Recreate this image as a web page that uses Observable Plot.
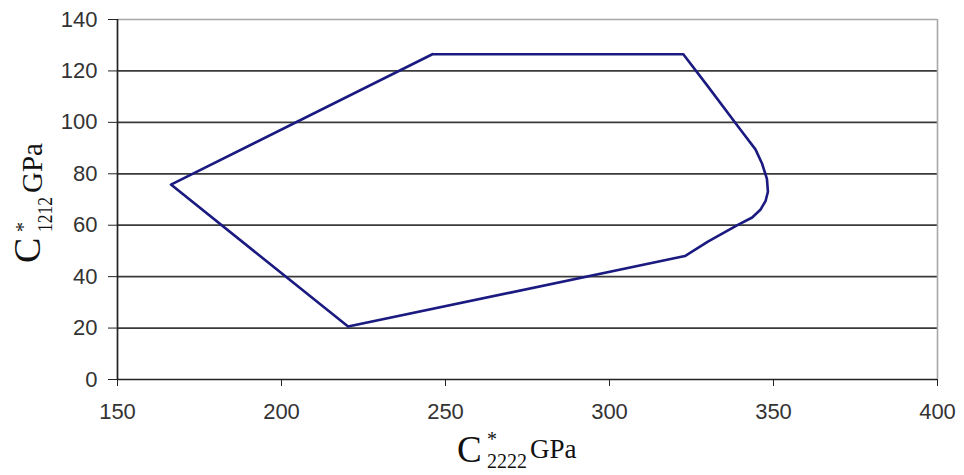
<!DOCTYPE html>
<html>
<head>
<meta charset="utf-8">
<script src="https://cdn.jsdelivr.net/npm/d3@7"></script>
<script src="https://cdn.jsdelivr.net/npm/@observablehq/plot@0.6"></script>
<style>
  html, body { margin: 0; padding: 0; background: #fff; }
  #chart { width: 964px; height: 475px; }
</style>
</head>
<body>
<div id="chart"></div>
<script>
// Envelope points (C*2222, C*1212) in GPa, in drawing order
const c2222 = [246, 322.5, 330, 340, 344.5, 346.5, 348, 348.3, 347.6, 346, 343.5, 339, 330, 323, 220.3, 166.3, 246];
const c1212 = [126.5, 126.5, 114, 97, 89.5, 84, 78, 73, 69.5, 66, 63, 60, 53.6, 48, 20.6, 75.8, 126.5];

const xTicks = [150, 200, 250, 300, 350, 400];
const yTicks = [0, 20, 40, 60, 80, 100, 120, 140];
const gridY = [20, 40, 60, 80, 100, 120];

const pts = c2222.map((x, i) => ({x, y: c1212[i]}));

const tickFont = "'Liberation Sans', Arial, sans-serif";

const svg = Plot.plot({
  width: 964,
  height: 475,
  marginLeft: 117,
  marginRight: 27,
  marginTop: 19,
  marginBottom: 96,
  style: {fontFamily: tickFont, fontSize: "22px", color: "#333", background: "#fff"},
  x: {domain: [150, 400], ticks: xTicks},
  y: {domain: [0, 140], ticks: yTicks},
  marks: [
    Plot.ruleY(gridY, {stroke: "#3a3a3a", strokeWidth: 1.7}),
    Plot.ruleY([140], {stroke: "#a8a8a8", strokeWidth: 1.6}),
    Plot.ruleX([400], {stroke: "#a8a8a8", strokeWidth: 1.6}),
    Plot.ruleY([0], {stroke: "#222", strokeWidth: 1.7}),
    Plot.ruleX([150], {stroke: "#222", strokeWidth: 1.7}),
    Plot.axisX({ticks: xTicks, tickSize: 7, tickPadding: 17, label: null, stroke: "#222", fill: "#333", fontSize: 22}),
    Plot.axisY({ticks: yTicks, tickSize: 9, tickPadding: 11, label: null, stroke: "#222", fill: "#333", fontSize: 22}),
    Plot.line(pts, {x: "x", y: "y", stroke: "#1a1a80", strokeWidth: 2.6, curve: "linear"})
  ]
});

document.getElementById("chart").appendChild(svg);

// Axis titles with sub/superscripts
const s = d3.select(svg);
const serif = "'Liberation Serif', 'Times New Roman', serif";

// X title: C*2222 GPa
const xt = s.append("g").attr("font-family", serif).attr("fill", "#111").attr("text-anchor", "start");
xt.append("text").attr("x", 457).attr("y", 462).attr("font-size", 37).text("C");
xt.append("text").attr("x", 487).attr("y", 446).attr("font-size", 20).text("*");
xt.append("text").attr("x", 487).attr("y", 468).attr("font-size", 21)
  .attr("textLength", 40).attr("lengthAdjust", "spacingAndGlyphs").text("2222");
xt.append("text").attr("x", 530).attr("y", 458).attr("font-size", 27).text("GPa");

// Y title: C*1212 GPa (rotated)
const yt = s.append("g").attr("font-family", serif).attr("fill", "#111").attr("text-anchor", "start")
  .attr("transform", "translate(40,263) rotate(-90)");
yt.append("text").attr("x", 0).attr("y", 0).attr("font-size", 38).text("C");
yt.append("text").attr("x", 31).attr("y", -10).attr("font-size", 20).text("*");
yt.append("text").attr("x", 31).attr("y", 12).attr("font-size", 20)
  .attr("textLength", 35).attr("lengthAdjust", "spacingAndGlyphs").text("1212");
yt.append("text").attr("x", 70).attr("y", 2).attr("font-size", 29).text("GPa");
</script>
</body>
</html>
